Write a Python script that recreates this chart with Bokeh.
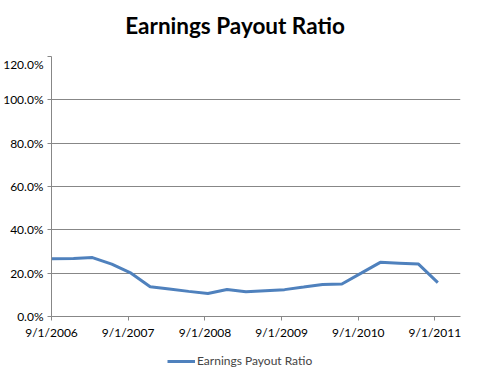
from datetime import datetime
from bokeh.plotting import figure
from bokeh.layouts import column
from bokeh.models import (ColumnDataSource, FixedTicker, NumeralTickFormatter,
                          DatetimeTickFormatter, Legend, LegendItem, Label)
from bokeh.embed import file_html
from bokeh.resources import INLINE

# ---- data ----
dates = ["2006-09-01", "2006-12-15", "2007-03-15", "2007-06-15", "2007-09-15",
         "2007-12-15", "2008-03-15", "2008-06-15", "2008-09-15", "2008-12-15",
         "2009-03-15", "2009-06-15", "2009-09-15", "2009-12-15", "2010-03-15",
         "2010-06-15", "2010-09-15", "2010-12-15", "2011-03-15", "2011-06-15",
         "2011-09-15"]
payout = [0.266, 0.268, 0.272, 0.242, 0.200, 0.137, 0.127, 0.116, 0.106, 0.125,
          0.114, 0.119, 0.124, 0.136, 0.148, 0.150, 0.200, 0.250, 0.246, 0.242,
          0.156]
series_name = "Earnings Payout Ratio"
title_text = "Earnings Payout Ratio"
x_tick_dates = ["2006-09-01", "2007-09-01", "2008-09-01", "2009-09-01",
                "2010-09-01", "2011-09-01"]
y_ticks = [0.0, 0.2, 0.4, 0.6, 0.8, 1.0, 1.2]

x = [datetime.strptime(d, "%Y-%m-%d") for d in dates]
src = ColumnDataSource(dict(x=x, y=payout))

FONT = "Lato"
GRAY = "#878787"
BLUE = "#4F81BD"
FW, FH = 409, 260


def strip(height):
    f = figure(width=463, height=height, output_backend="svg",
               toolbar_location=None, min_border=0,
               x_range=(0, 1), y_range=(0, 1))
    f.axis.visible = False
    f.grid.grid_line_color = None
    f.outline_line_color = None
    f.border_fill_color = "white"
    f.background_fill_color = "white"
    return f


# title strip
ts = strip(56)
ts.add_layout(Label(x=183.5, y=31, x_units="screen", y_units="screen",
                    text=title_text, text_align="center",
                    text_baseline="alphabetic", text_font=FONT,
                    text_font_size="22.5px", text_font_style="bold",
                    text_color="#000000"))

# main chart
p = figure(frame_width=FW, frame_height=FH, x_axis_type="datetime",
           x_range=(datetime(2006, 9, 1), datetime(2012, 1, 1)),
           y_range=(0, 1.2), output_backend="svg", toolbar_location=None,
           min_border_left=47, min_border_right=7, min_border_top=0,
           min_border_bottom=32)

p.line("x", "y", source=src, line_color=BLUE, line_width=3)

epoch = datetime(1970, 1, 1)
p.xaxis.ticker = FixedTicker(ticks=[(datetime.strptime(d, "%Y-%m-%d") - epoch).total_seconds() * 1000
                                    for d in x_tick_dates])
p.xaxis.formatter = DatetimeTickFormatter(days="%-m/%-d/%Y", months="%-m/%-d/%Y",
                                          years="%-m/%-d/%Y")
p.yaxis.ticker = FixedTicker(ticks=y_ticks)
p.yaxis.formatter = NumeralTickFormatter(format="0.0%")

for ax in (p.xaxis, p.yaxis):
    ax.axis_line_color = GRAY
    ax.major_tick_line_color = GRAY
    ax.minor_tick_line_color = None
    ax.major_tick_in = 0
    ax.major_tick_out = 4
    ax.major_label_text_font = FONT
    ax.major_label_text_font_size = "12px"
    ax.major_label_text_color = "#000000"
    ax.major_label_standoff = 4

p.xgrid.grid_line_color = None
p.ygrid.grid_line_color = GRAY
p.ygrid.grid_line_width = 1
p.outline_line_color = None
p.background_fill_color = "white"
p.border_fill_color = "white"

# legend strip below the chart
lg = strip(28)
lr = lg.line("x", "y", source=src, line_color=BLUE, line_width=3)
legend = Legend(items=[LegendItem(label=series_name, renderers=[lr])],
                location=(116, 8), orientation="horizontal",
                label_text_font=FONT, label_text_font_size="12px",
                glyph_width=28, glyph_height=12, label_standoff=2,
                border_line_color=None, background_fill_alpha=0,
                padding=0, margin=0)
lg.add_layout(legend)

layout = column(ts, p, lg, spacing=0)
open("out.html", "w").write(file_html(layout, INLINE))
